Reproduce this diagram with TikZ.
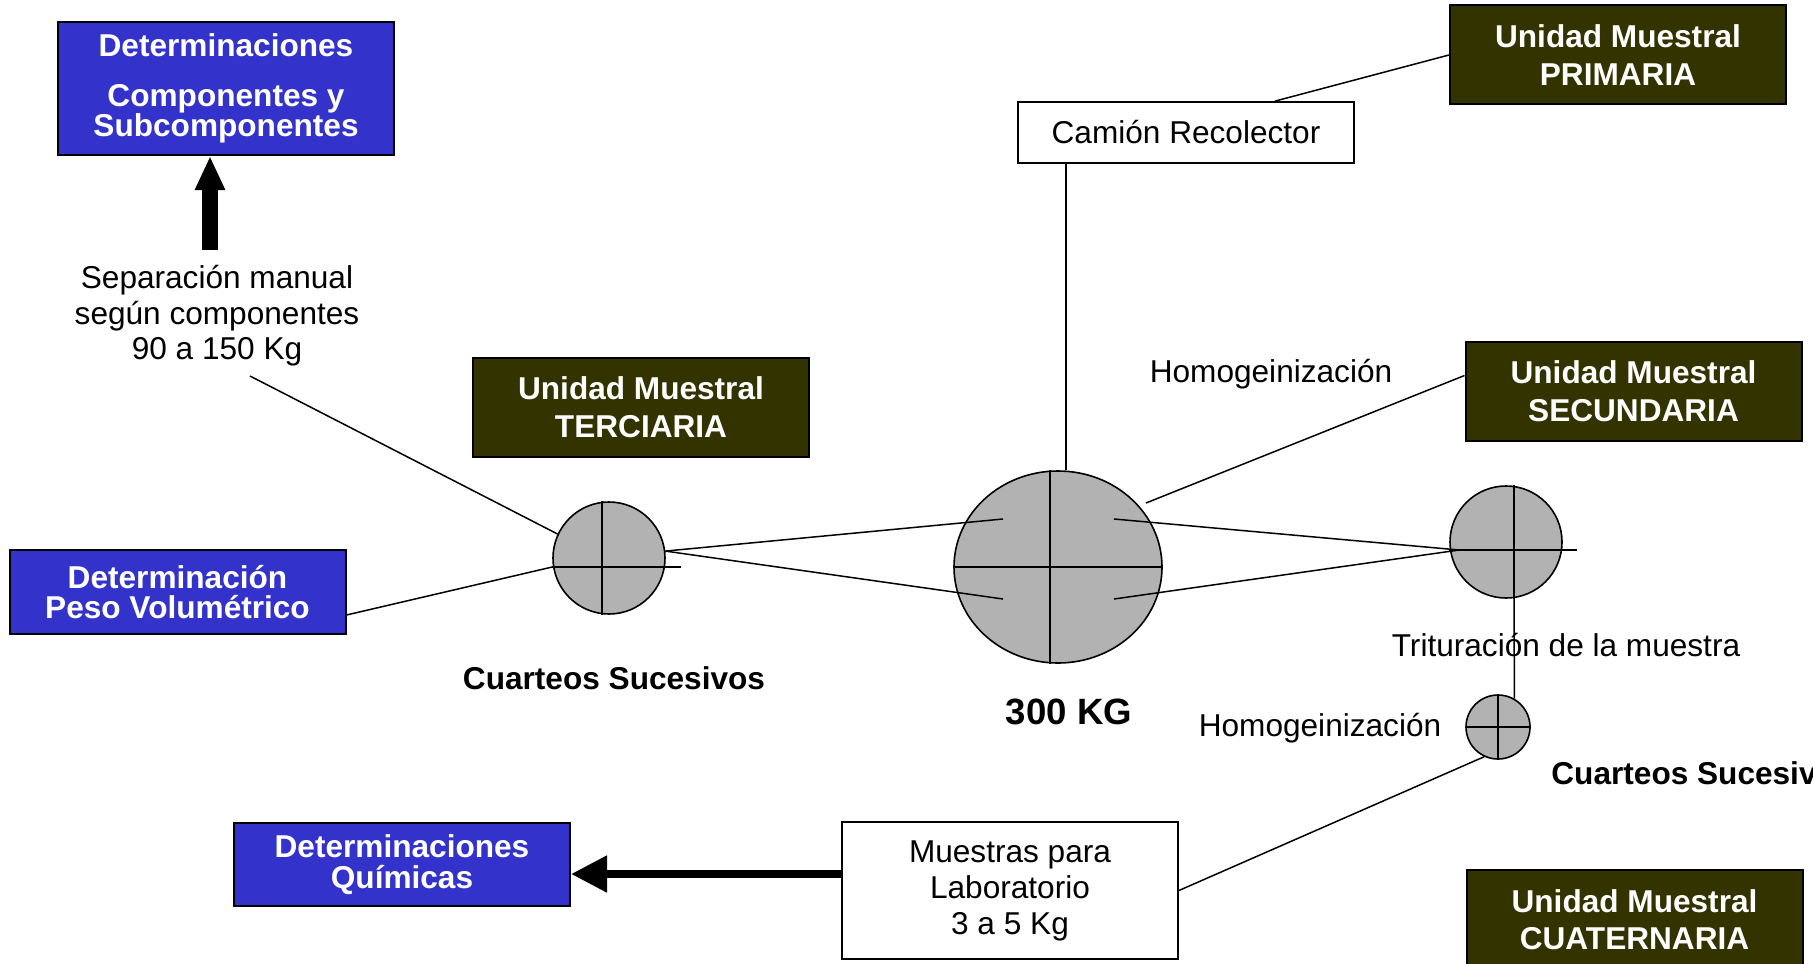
\documentclass[tikz,border=0pt]{standalone}
\usepackage{fontspec}
\setmainfont{Liberation Sans}
\usetikzlibrary{shapes.geometric,arrows.meta,calc}
\definecolor{detblue}{RGB}{51,51,204}
\definecolor{unitolive}{RGB}{51,51,0}
\definecolor{quartergray}{RGB}{178,178,178}
\tikzset{
  bluebox/.style={draw=black, line width=1pt, fill=detblue, text=white, font=\bfseries\fontsize{15.8}{15.3}\selectfont, align=center, minimum width=168pt, inner sep=0pt},
  unitbox/.style={draw=black, line width=1pt, fill=unitolive, text=white, font=\bfseries\fontsize{15.8}{18.8}\selectfont, align=center, minimum width=168pt, minimum height=49.5pt, inner sep=0pt},
  whitebox/.style={draw=black, line width=0.9pt, fill=white, font=\fontsize{15.8}{18}\selectfont, align=center, minimum width=168pt, inner sep=0pt},
  cuarteo/.style={ellipse, draw=black, line width=0.8pt, fill=quartergray, inner sep=0pt},
  plaintext/.style={font=\fontsize{15.8}{17.8}\selectfont, align=center, inner sep=0pt},
  boldtext/.style={font=\bfseries\fontsize{15.8}{17.8}\selectfont, inner sep=0pt},
  link/.style={line width=0.75pt},
  uparrow/.style={line width=8pt, -{Triangle[length=17pt,width=14pt]}},
  leftarrow/.style={line width=4pt, -{Triangle[length=18pt,width=17.5pt]}}
}
\begin{document}
\begin{tikzpicture}[x=0.5pt,y=-0.5pt]
  \useasboundingbox (0,0) rectangle (1813,963);
  \clip (0,0) rectangle (1813,963);

  \node[bluebox, minimum height=66.5pt] (detcomp) at (226,88.5) {Determinaciones\\[9.5pt]Componentes y\\Subcomponentes};
  \node[bluebox, minimum height=42pt] (peso) at (177.5,592) {Determinación\\Peso Volumétrico};
  \node[bluebox, minimum height=41.5pt] (quim) at (402,864.5) {Determinaciones\\Químicas};

  \node[unitbox] (primaria) at (1618,55) {Unidad Muestral\\PRIMARIA};
  \node[unitbox] (terciaria) at (641,407.5) {Unidad Muestral\\TERCIARIA};
  \node[unitbox] (secundaria) at (1633.5,391.5) {Unidad Muestral\\SECUNDARIA};
  \node[unitbox] (cuaternaria) at (1634.5,919.5) {Unidad Muestral\\CUATERNARIA};

  \node[whitebox, minimum height=30.5pt] (camion) at (1186,132.5) {Camión Recolector};
  \node[whitebox, minimum height=68.5pt] (muestras) at (1010,890.5) {Muestras para\\Laboratorio\\3 a 5 Kg};

  \node[cuarteo, minimum width=104pt, minimum height=96pt] (big) at (1058,567) {};
  \node[cuarteo, minimum size=56pt] (lc) at (609,558) {};
  \node[cuarteo, minimum size=56pt] (rc) at (1506,542) {};
  \node[cuarteo, minimum size=32pt] (sc) at (1498,727) {};

  \draw[link] ([xshift=-4pt]big.north) -- ([xshift=-4pt]big.south);
  \draw[link] (big.west) -- (big.east);
  \draw[link] ([xshift=-3.5pt]lc.north) -- ([xshift=-3.5pt]lc.south);
  \draw[link] ([yshift=-4.5pt]lc.west) -- ++(129,0);
  \draw[link] ([xshift=4pt]rc.north) -- ([xshift=4pt]rc.south);
  \draw[link] ([yshift=-4pt]rc.west) -- ++(128,0);
  \draw[link] (sc.north) -- (sc.south);
  \draw[link] (sc.west) -- (sc.east);

  \node[plaintext] (sep) at (217,316) {Separación manual\\según componentes\\90 a 150 Kg};
  \node[plaintext] (homogA) at (1271,374) {Homogeinización};
  \node[plaintext] (homogB) at (1320,728) {Homogeinización};
  \node[plaintext] (trit) at (1566,645) {Trituración de la muestra};
  \node[boldtext] (cuartA) at (614,678) {Cuarteos Sucesivos};
  \node[boldtext, anchor=west] (cuartB) at (1551,773) {Cuarteos Sucesivos};
  \node[boldtext, font=\bfseries\fontsize{18.3}{20}\selectfont] (kg) at (1069,712) {300 KG};

  \coordinate (septop) at (210,250);
  \coordinate (sepfoot) at (250,376);
  \coordinate (quimin) at ([yshift=-4.75pt]quim.east);
  \coordinate (bigtop) at ([xshift=4pt]big.north);

  \draw[uparrow] (septop) -- (septop |- detcomp.south);
  \draw[link] (sepfoot) -- (lc.155);
  \draw[link] ([yshift=-11.5pt]peso.east) -- ([yshift=-4.5pt]lc.west);
  \draw[link] (lc.7) -- ($(big.center)+(-55,-48)$);
  \draw[link] (lc.7) -- ($(big.center)+(-55,32)$);
  \draw[link] ($(big.center)+(56,-48)$) -- ($(rc.west)+(10,8)$);
  \draw[link] ($(big.center)+(56,32)$) -- ($(rc.west)+(10,8)$);
  \draw[link] (bigtop |- camion.south) -- (bigtop);
  \draw[link] ($(camion.north)+(89,0)$) -- (primaria.west);
  \draw[link] ($(secundaria.west)+(0,-16)$) -- ($(big.center)+(88,-64)$);
  \draw[link] ([xshift=4pt]rc.south) -- (sc.60);
  \draw[link] (muestras.east) -- (sc.245);
  \draw[leftarrow] (muestras.west |- quimin) -- (quimin);
\end{tikzpicture}
\end{document}
